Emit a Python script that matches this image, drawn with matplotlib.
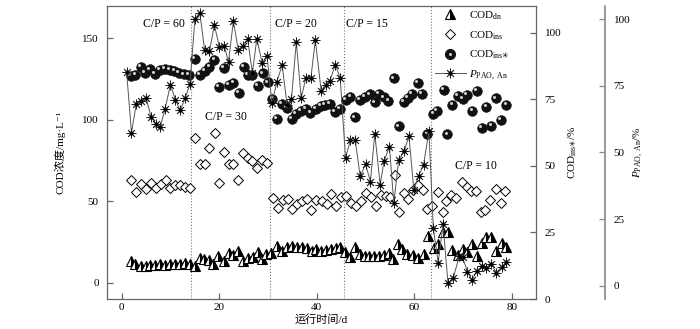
import numpy as np
import matplotlib
matplotlib.use("Agg")
import matplotlib.pyplot as plt
from matplotlib.transforms import offset_copy
from matplotlib.legend_handler import HandlerTuple

plt.rcParams["font.family"] = ["Liberation Serif", "Noto Sans CJK SC", "DejaVu Sans"]
plt.rcParams["mathtext.fontset"] = "custom"
plt.rcParams["mathtext.rm"] = "Liberation Serif"
plt.rcParams["mathtext.it"] = "Liberation Serif:italic"
plt.rcParams["mathtext.sf"] = "DejaVu Sans"
plt.rcParams["font.size"] = 8

# C/P stage boundaries (d) and stage labels
stage_bounds = [14.3, 30.5, 45.6, 63.5]
stage_labels = ["C/P = 60", "C/P = 30", "C/P = 20", "C/P = 15", "C/P = 10"]
stage_label_pos = [(8.6, 159), (21.3, 102), (35.8, 159), (50.3, 159), (72.6, 71.6)]

# COD_dn, mg/L
day_dn = [1.8, 2.8, 3.9, 4.9, 5.9, 6.9, 7.9, 8.9, 9.9, 10.9, 11.9, 12.9, 13.9,
          15.0, 16.0, 16.9, 17.8, 18.8, 19.8, 20.9, 21.9, 22.9, 23.9, 24.9, 25.9, 26.9, 28.0, 28.8, 29.6,
          30.6, 31.9, 32.9, 33.9, 35.0, 36.0, 37.0, 38.0, 39.0, 39.9, 40.9, 41.9, 43.0, 44.0, 44.8,
          45.8, 46.8, 47.8, 48.8, 49.8, 50.8, 51.8, 52.8, 53.8, 54.8, 55.7, 56.7, 57.5, 58.6, 59.7, 60.7, 61.9, 62.8,
          64.0, 64.9, 65.9, 66.9, 67.8, 69.0, 69.9, 70.9, 71.8, 72.9, 73.9, 74.8, 75.8, 76.8, 77.9, 78.9]
cod_dn = [13.5, 11.4, 10.0, 10.5, 11.0, 11.0, 11.4, 11.0, 11.4, 11.4, 11.8, 12.0, 11.4,
          10.4, 15.3, 14.3, 13.9, 11.4, 16.2, 13.5, 18.2, 17.3, 19.7, 13.5, 15.1, 15.7, 18.6, 14.5, 17.6,
          18.2, 22.6, 19.6, 21.8, 22.6, 21.8, 21.8, 21.2, 19.8, 20.8, 19.6, 20.2, 20.8, 21.2, 21.8,
          19.2, 16.1, 22.2, 17.7, 16.3, 16.3, 16.3, 16.6, 16.8, 18.4, 14.7, 23.6, 20.6, 17.5, 17.1, 15.5, 17.5, 28.8,
          21.2, 23.9, 31.4, 31.4, 20.2, 17.1, 20.6, 18.6, 23.7, 16.5, 24.7, 28.4, 28.4, 19.8, 24.7, 21.9]

# COD_ins, mg/L
day_ins = [2.0, 3.0, 4.0, 5.0, 6.0, 7.0, 8.0, 9.0, 9.9, 10.9, 11.9, 12.9, 13.9,
           15.1, 16.0, 17.0, 18.0, 19.1, 20.0, 21.0, 21.9, 22.9, 23.9, 24.9, 25.8, 26.8, 27.8, 28.8, 29.8,
           31.0, 32.0, 33.0, 34.0, 35.0, 36.0, 37.0, 38.0, 38.9, 39.9, 41.0, 42.0, 42.9, 43.9, 44.9,
           46.0, 47.1, 48.1, 49.1, 50.1, 51.1, 52.2, 53.1, 54.1, 55.0, 56.0, 56.8, 57.8, 58.8, 59.8, 60.7, 61.7, 62.7,
           63.7, 64.8, 65.8, 66.6, 67.6, 68.6, 69.8, 70.8, 71.7, 72.6, 73.6, 74.6, 75.6, 76.7, 77.7, 78.7]
cod_ins = [63.0, 56.0, 60.6, 57.6, 61.2, 58.2, 60.6, 63.3, 58.2, 60.0, 60.0, 58.7, 58.2,
           88.6, 72.9, 72.9, 82.9, 92.0, 61.2, 80.2, 73.0, 73.0, 63.3, 79.5, 76.5, 75.0, 70.6, 75.5, 73.4,
           51.8, 45.9, 51.0, 51.4, 45.3, 48.6, 50.0, 51.4, 44.9, 51.0, 50.0, 48.6, 54.8, 46.9, 52.7,
           53.0, 49.0, 46.9, 50.0, 55.0, 52.6, 47.3, 54.0, 53.5, 52.6, 66.2, 43.7, 55.0, 51.4, 57.0, 60.1, 57.0, 45.3,
           47.3, 55.7, 43.7, 50.5, 54.0, 51.8, 61.6, 59.1, 56.1, 56.6, 43.7, 44.7, 50.8, 57.4, 48.8, 56.6]

# COD_ins*, %
day_ins2 = [1.8, 2.8, 3.9, 4.8, 5.8, 6.8, 7.8, 8.8, 9.8, 10.8, 11.8, 12.8, 13.8,
            15.0, 16.0, 17.0, 18.0, 19.0, 20.0, 20.9, 21.9, 22.9, 24.0, 25.0, 25.9, 26.8, 28.0, 29.0, 29.9,
            30.9, 31.9, 32.9, 33.9, 34.9, 35.8, 36.8, 37.7, 38.7, 39.8, 40.8, 41.7, 42.7, 43.8, 44.7,
            45.9, 46.9, 47.9, 48.9, 49.9, 50.9, 51.9, 52.8, 53.8, 54.7, 55.8, 56.8, 57.9, 58.7, 59.5, 60.7, 61.6, 62.7,
            63.9, 64.7, 66.0, 66.8, 67.8, 68.9, 69.9, 70.8, 71.9, 72.9, 73.8, 74.8, 75.8, 76.8, 77.7, 78.9]
cod_ins2 = [83.8, 84.0, 87.2, 85.0, 86.2, 84.6, 85.9, 86.4, 86.0, 85.5, 85.0, 84.3, 84.1,
            90.0, 84.1, 85.7, 87.0, 89.8, 79.5, 86.8, 80.3, 81.2, 77.4, 87.0, 84.0, 84.0, 80.0, 84.7, 81.3,
            75.0, 67.7, 73.1, 71.7, 67.7, 69.6, 70.6, 71.5, 69.9, 71.5, 72.5, 72.8, 73.3, 70.3, 71.5,
            74.8, 75.8, 68.2, 74.8, 75.8, 76.8, 73.8, 77.0, 75.7, 74.4, 82.8, 64.8, 74.0, 75.5, 77.0, 81.0, 77.0, 62.0,
            69.4, 70.7, 78.5, 61.8, 72.8, 76.3, 75.1, 76.6, 70.6, 78.1, 64.3, 72.2, 65.0, 75.3, 67.2, 72.8]

# P_PAO,An, %
day_pao = [1.0, 2.0, 3.0, 4.0, 5.0, 6.0, 7.0, 7.9, 8.9, 10.0, 11.0, 12.0, 13.0, 14.0,
           15.0, 16.0, 17.0, 18.0, 19.0, 20.0, 21.0, 21.9, 22.9, 23.9, 24.8, 25.8, 26.8, 27.7, 28.8, 29.8,
           30.8, 31.8, 32.9, 33.9, 34.8, 35.8, 36.8, 37.8, 38.8, 39.7, 40.9, 41.8, 42.7, 43.8, 44.8,
           45.9, 46.9, 47.9, 48.9, 50.0, 51.0, 51.9, 53.0, 53.8, 54.9, 55.8, 56.8, 57.9, 58.9, 59.9, 60.9, 61.9, 63.0,
           63.9, 64.9, 65.9, 66.9, 68.0, 69.2, 69.9, 70.9, 71.8, 72.9, 73.9, 74.8, 75.8, 76.8, 77.9, 78.9]
p_pao = [80.2, 57.5, 68.3, 69.5, 70.6, 63.4, 60.8, 59.5, 66.5, 75.5, 69.8, 65.8, 70.4, 75.6,
         100.0, 102.5, 88.5, 87.9, 97.9, 89.7, 90.0, 84.1, 99.3, 88.5, 90.0, 92.7, 79.8, 92.7, 83.6, 86.2,
         68.5, 76.4, 82.9, 67.9, 70.0, 91.4, 70.6, 78.1, 78.1, 92.2, 73.1, 75.5, 77.0, 82.9, 78.0,
         48.0, 54.5, 54.5, 41.0, 45.6, 39.1, 57.0, 37.9, 46.8, 52.2, 31.0, 47.2, 50.4, 56.1, 36.0, 41.3, 45.4, 58.0,
         21.5, 8.7, 23.0, 1.1, 2.9, 11.0, 10.7, 5.3, 2.2, 5.7, 7.3, 6.8, 8.3, 4.9, 7.1, 8.8]

fig = plt.figure(figsize=(7.0, 3.29), dpi=100)
ax = fig.add_axes([0.153, 0.091, 0.613, 0.891])
ax2 = ax.twinx()
ax3 = ax.twinx()

frame_col = "#666666"
for s in ax.spines.values():
    s.set_color(frame_col)
    s.set_linewidth(0.9)
for name in ["left", "top", "bottom", "right"]:
    ax2.spines[name].set_visible(False)
    if name != "right":
        ax3.spines[name].set_visible(False)
ax3.spines["right"].set_position(("axes", 1.161))
ax3.spines["right"].set_color("#888888")
ax3.spines["right"].set_linewidth(1.2)

for x in stage_bounds:
    ax.axvline(x, color="#777777", ls=":", lw=0.8, zorder=1)

# COD_dn triangles (half shaded)
h_dn, = ax.plot(day_dn, cod_dn, ls="none", marker="^", ms=6.5, fillstyle="right",
                mfc="black", mfcalt="white", mec="black", mew=0.8, zorder=3)
# COD_ins open diamonds
h_ins, = ax.plot(day_ins, cod_ins, ls="none", marker="D", ms=4.8, mfc="white",
                 mec="black", mew=0.7, zorder=3)

# COD_ins* shaded balls
h_ball, = ax2.plot(day_ins2, cod_ins2, ls="none", marker="o", ms=7, mfc="#111111",
                   mec="#111111", mew=0.4, zorder=3)
hl_trans = offset_copy(ax2.transData, fig=fig, x=-1.3, y=1.3, units="points")
ax2.plot(day_ins2, cod_ins2, ls="none", marker="o", ms=2.2, mfc="#cfcfcf",
         mec="none", transform=hl_trans, zorder=4)
h_ball_leg, = ax2.plot([], [], ls="none", marker="o", ms=7, mfc="#111111", mec="#111111")
h_hl_leg, = ax2.plot([], [], ls="none", marker="o", ms=2.2, mfc="#cfcfcf", mec="none")

# P_PAO,An asterisks joined by line
h_pao, = ax3.plot(day_pao, p_pao, color="#555555", lw=0.7, marker=(8, 2, 0), ms=7,
                  mec="#222222", mew=0.6, zorder=3)
h_dot, = ax3.plot(day_pao, p_pao, ls="none", marker="o", ms=2.0, mfc="black",
                  mec="black", zorder=4)

for lab, (xp, yp) in zip(stage_labels, stage_label_pos):
    ax.text(xp, yp, lab, ha="center", va="center", fontsize=8.5)

ax.set_xlim(-3, 85)
ax.set_ylim(-10, 170)
ax.set_xticks([0, 20, 40, 60, 80])
ax.set_yticks([0, 50, 100, 150])
ax2.set_ylim(0, 110)
ax2.set_yticks([0, 25, 50, 75, 100])
ax3.set_ylim(-5, 105)
ax3.set_yticks([0, 25, 50, 75, 100])

ax.tick_params(direction="in", length=4, width=0.9, color=frame_col, labelsize=8, pad=3)
ax.tick_params(axis="y", pad=6)
ax2.tick_params(direction="in", length=4, width=0.9, color=frame_col, labelsize=8, pad=6)
ax3.tick_params(direction="in", length=4, width=0.9, color="#888888", labelsize=8, pad=6)

ax.set_xlabel("运行时间/d", fontsize=8, labelpad=1)
ax.set_ylabel("COD浓度/mg·L⁻¹", fontsize=8, labelpad=12)
ax2.set_ylabel(r"COD$_{\mathrm{ins}\mathsf{✳}}$/%", fontsize=8, labelpad=4)
ax3.set_ylabel(r"$P_{\mathrm{PAO,\ An}}$/%", fontsize=8, labelpad=1)

ax3.legend([h_dn, h_ins, (h_ball_leg, h_hl_leg), (h_pao, h_dot)],
           ["COD$_{\\mathrm{dn}}$", "COD$_{\\mathrm{ins}}$", "COD$_{\\mathrm{ins}\\mathsf{✳}}$",
            "$P_{\\mathrm{PAO,\\ An}}$"],
           handler_map={tuple: HandlerTuple(ndivide=1)},
           loc="upper left", bbox_to_anchor=(0.745, 1.015), frameon=False,
           fontsize=8, handlelength=2.8, handletextpad=0.3, labelspacing=0.65,
           borderaxespad=0.3)

fig.savefig("out.png", dpi=100)
